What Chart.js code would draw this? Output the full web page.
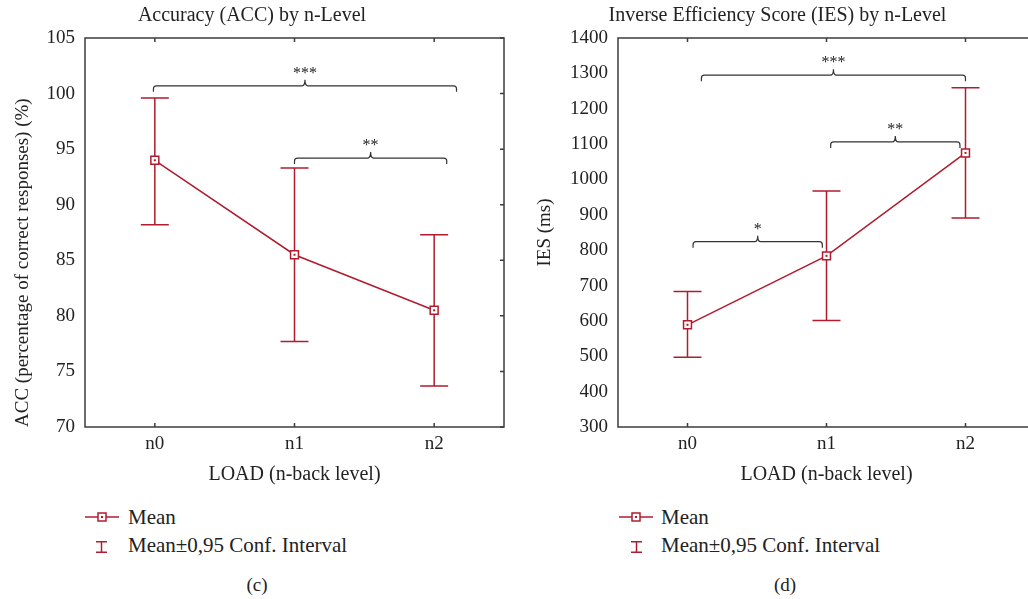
<!DOCTYPE html>
<html>
<head>
<meta charset="utf-8">
<script src="https://cdn.jsdelivr.net/npm/chart.js@4.4.1/dist/chart.umd.min.js"></script>
<style>
  html, body { margin: 0; padding: 0; width: 1028px; height: 599px; overflow: hidden; background: #fff; }
  body { position: relative; font-family: "Liberation Serif", serif; color: #222; }
  canvas { position: absolute; top: 0; }
  #accChart { left: 0; }
  #iesChart { left: 520px; }
  .txt { position: absolute; font-size: 21px; line-height: 22px; white-space: nowrap; }
  .cap { position: absolute; font-size: 19px; line-height: 22px; transform: translateX(-50%); }
  svg { position: absolute; overflow: visible; }
</style>
</head>
<body>
<canvas id="accChart" width="520" height="500"></canvas>
<canvas id="iesChart" width="530" height="500"></canvas>

<!-- legend (c) -->
<svg style="left:85px;top:511px" width="34" height="12"><line x1="0" y1="6" x2="34" y2="6" stroke="#b01c2e" stroke-width="1.5"/><rect x="13" y="2" width="8" height="8" fill="#fff" stroke="#b01c2e" stroke-width="1.5"/><rect x="16" y="5" width="2" height="2" fill="#b01c2e"/></svg>
<div class="txt" style="left:128px;top:506px">Mean</div>
<svg style="left:96px;top:541px" width="11" height="12"><line x1="5.5" y1="0" x2="5.5" y2="12" stroke="#b01c2e" stroke-width="1.5"/><line x1="0" y1="0.75" x2="11" y2="0.75" stroke="#b01c2e" stroke-width="1.5"/><line x1="0" y1="11.25" x2="11" y2="11.25" stroke="#b01c2e" stroke-width="1.5"/></svg>
<div class="txt" style="left:128px;top:534px">Mean±0,95 Conf. Interval</div>
<div class="cap" style="left:257px;top:574px">(c)</div>

<!-- legend (d) -->
<svg style="left:619px;top:511px" width="34" height="12"><line x1="0" y1="6" x2="34" y2="6" stroke="#b01c2e" stroke-width="1.5"/><rect x="13" y="2" width="8" height="8" fill="#fff" stroke="#b01c2e" stroke-width="1.5"/><rect x="16" y="5" width="2" height="2" fill="#b01c2e"/></svg>
<div class="txt" style="left:661px;top:506px">Mean</div>
<svg style="left:631px;top:541px" width="11" height="12"><line x1="5.5" y1="0" x2="5.5" y2="12" stroke="#b01c2e" stroke-width="1.5"/><line x1="0" y1="0.75" x2="11" y2="0.75" stroke="#b01c2e" stroke-width="1.5"/><line x1="0" y1="11.25" x2="11" y2="11.25" stroke="#b01c2e" stroke-width="1.5"/></svg>
<div class="txt" style="left:661px;top:534px">Mean±0,95 Conf. Interval</div>
<div class="cap" style="left:785px;top:574px">(d)</div>

<script>
// categories
const loadLevels = ["n0", "n1", "n2"];

// (c) accuracy, %
const accMean = [94.0, 85.5, 80.5];
const accLow = [88.2, 77.7, 73.7];
const accHigh = [99.6, 93.3, 87.3];
const accAxis = [70, 105, 5]; // min, max, step

// (d) inverse efficiency score, ms
const iesMean = [589, 784, 1075];
const iesLow = [497, 601, 891];
const iesHigh = [683, 967, 1259];
const iesAxis = [300, 1400, 100];

// significance brackets: from/to in category units, y in data units
const accBrackets = [
  { from: -0.01, to: 2.16, y: 100.7, label: "***" },
  { from: 1.0, to: 2.09, y: 94.2, label: "**" },
];
const iesBrackets = [
  { from: 0.1, to: 2.0, y: 1295, label: "***" },
  { from: 1.03, to: 1.96, y: 1106, label: "**" },
  { from: 0.04, to: 0.97, y: 824, label: "*" },
];

const RED = "#b01c2e";
const INK = "#222";
const FONT = '"Liberation Serif", serif';

Chart.defaults.font.family = FONT;
Chart.defaults.color = INK;

// error bars, marker dots, frame with inward ticks, brackets
function panelPlugin(low, high, brackets) {
  return {
    id: "panel",
    beforeDatasetsDraw(chart) {
      const { ctx, scales: { x, y } } = chart;
      ctx.save();
      ctx.strokeStyle = RED;
      ctx.lineWidth = 1.5;
      low.forEach((lo, i) => {
        const px = x.getPixelForValue(i);
        const y1 = y.getPixelForValue(lo);
        const y2 = y.getPixelForValue(high[i]);
        ctx.beginPath();
        ctx.moveTo(px, y1); ctx.lineTo(px, y2);
        ctx.moveTo(px - 14, y1); ctx.lineTo(px + 14, y1);
        ctx.moveTo(px - 14, y2); ctx.lineTo(px + 14, y2);
        ctx.stroke();
      });
      ctx.restore();
    },
    afterDatasetsDraw(chart) {
      const { ctx, chartArea: a, scales: { x, y } } = chart;
      ctx.save();
      ctx.fillStyle = RED;
      chart.getDatasetMeta(0).data.forEach(p => ctx.fillRect(p.x - 1, p.y - 1, 2, 2));

      // frame
      ctx.strokeStyle = "#3c3c3c";
      ctx.lineWidth = 1.5;
      ctx.strokeRect(a.left, a.top, a.right - a.left, a.bottom - a.top);
      ctx.beginPath();
      loadLevels.forEach((_, i) => {
        const px = x.getPixelForValue(i);
        ctx.moveTo(px, a.top); ctx.lineTo(px, a.top + 4);
        ctx.moveTo(px, a.bottom); ctx.lineTo(px, a.bottom - 4);
      });
      y.ticks.forEach(t => {
        const py = y.getPixelForValue(t.value);
        ctx.moveTo(a.right, py); ctx.lineTo(a.right - 4, py);
      });
      ctx.stroke();

      // brackets
      ctx.strokeStyle = "#333";
      ctx.lineWidth = 1.2;
      ctx.fillStyle = INK;
      ctx.font = "16px " + FONT;
      ctx.textAlign = "center";
      ctx.textBaseline = "alphabetic";
      brackets.forEach(b => {
        const x1 = x.getPixelForValue(b.from);
        const x2 = x.getPixelForValue(b.to);
        const xm = (x1 + x2) / 2;
        const yy = y.getPixelForValue(b.y);
        ctx.beginPath();
        ctx.moveTo(x1, yy + 6);
        ctx.lineTo(x1, yy + 3);
        ctx.quadraticCurveTo(x1, yy, x1 + 3, yy);
        ctx.lineTo(xm - 3, yy);
        ctx.quadraticCurveTo(xm, yy, xm, yy - 6);
        ctx.quadraticCurveTo(xm, yy, xm + 3, yy);
        ctx.lineTo(x2 - 3, yy);
        ctx.quadraticCurveTo(x2, yy, x2, yy + 3);
        ctx.lineTo(x2, yy + 6);
        ctx.stroke();
        ctx.fillText(b.label, xm, yy - 8);
      });
      ctx.restore();
    },
  };
}

function makeChart(id, cfg) {
  const [min, max, step] = cfg.axis;
  return new Chart(document.getElementById(id), {
    type: "line",
    data: {
      labels: loadLevels,
      datasets: [{
        label: "Mean",
        data: cfg.mean,
        borderColor: RED,
        borderWidth: 1.5,
        tension: 0,
        pointStyle: "rect",
        pointRadius: 5.6,
        pointBackgroundColor: "#fff",
        pointBorderColor: RED,
        pointBorderWidth: 1.5,
      }],
    },
    options: {
      responsive: false,
      animation: false,
      devicePixelRatio: 1,
      layout: { padding: { left: 0, right: cfg.padRight, top: 0, bottom: 0 } },
      plugins: {
        legend: { display: false },
        tooltip: { enabled: false },
        title: {
          display: true,
          text: cfg.title,
          color: INK,
          font: { size: 20, weight: "normal" },
          padding: { top: 4, bottom: 10 },
        },
      },
      scales: {
        x: {
          offset: true,
          grid: { display: false, drawTicks: false },
          border: { display: false },
          ticks: { font: { size: 19 }, padding: 6 },
          title: { display: true, text: "LOAD (n-back level)", font: { size: 20 }, padding: { top: 0, bottom: 13 } },
          afterFit(s) { s.height = 73; },
        },
        y: {
          min: min,
          max: max,
          grid: { display: false, drawTicks: false },
          border: { display: false },
          ticks: { stepSize: step, font: { size: 19 }, padding: 10, callback: v => String(v) },
          title: { display: true, text: cfg.yTitle, align: cfg.yAlign, font: { size: 19 }, padding: { top: cfg.yTitlePad, bottom: 0 } },
          afterFit(s) { s.width = cfg.yWidth; },
        },
      },
    },
    plugins: [panelPlugin(cfg.low, cfg.high, cfg.brackets)],
  });
}

makeChart("accChart", {
  title: "Accuracy (ACC) by n-Level",
  yTitle: "ACC (percentage of correct responses) (%)",
  yAlign: "start",
  yTitlePad: 12,
  yWidth: 85,
  padRight: 16,
  axis: accAxis,
  mean: accMean, low: accLow, high: accHigh,
  brackets: accBrackets,
});

makeChart("iesChart", {
  title: "Inverse Efficiency Score (IES) by n-Level",
  yTitle: "IES (ms)",
  yAlign: "center",
  yTitlePad: 14,
  yWidth: 98,
  padRight: 15,
  axis: iesAxis,
  mean: iesMean, low: iesLow, high: iesHigh,
  brackets: iesBrackets,
});
</script>
</body>
</html>
